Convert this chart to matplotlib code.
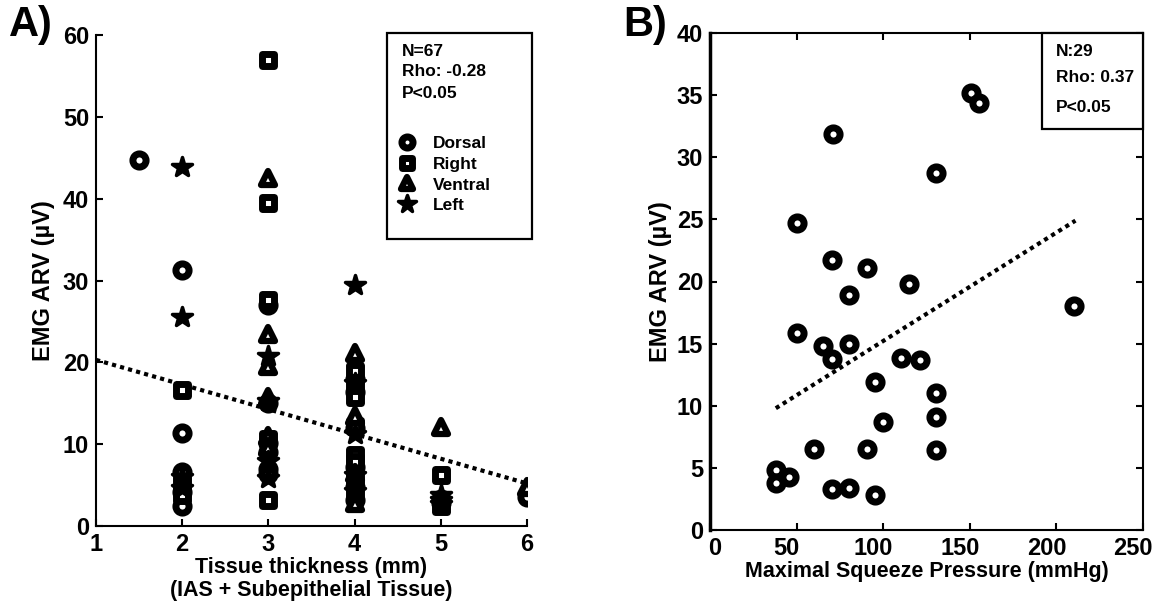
import matplotlib

matplotlib.use("Agg")
import matplotlib.pyplot as plt
from matplotlib.lines import Line2D
from matplotlib.markers import MarkerStyle
from matplotlib.patches import Rectangle
from matplotlib.transforms import ScaledTranslation

plt.rcParams["font.family"] = ["Liberation Sans", "DejaVu Sans"]
plt.rcParams["font.weight"] = "bold"

# Panel A: EMG ARV vs tissue thickness, per quadrant
dorsal_x = [1.5, 2, 2, 2, 2, 2, 3, 3, 3, 3, 3, 3, 4, 4, 4, 4, 4, 4, 5, 5, 6]
dorsal_y = [44.7, 31.3, 11.4, 6.6, 4.2, 2.4, 27.0, 15.0, 10.2, 9.0, 7.0, 6.3,
            18.0, 16.4, 12.0, 7.2, 4.8, 3.2, 3.3, 2.8, 3.6]
right_x = [2, 2, 2, 3, 3, 3, 3, 3, 4, 4, 4, 4, 4, 4, 4, 4, 5, 5]
right_y = [16.6, 5.3, 3.8, 57.0, 39.5, 27.6, 10.6, 3.2, 19.0, 17.0, 15.8,
           12.2, 8.7, 7.8, 5.8, 3.8, 6.2, 2.5]
ventral_x = [3, 3, 3, 3, 3, 3, 4, 4, 4, 4, 5, 6]
ventral_y = [42.5, 23.5, 19.6, 15.8, 11.0, 9.6, 21.1, 13.4, 6.5, 2.8, 12.1, 4.8]
left_x = [2, 2, 2, 2, 3, 3, 3, 3, 4, 4, 4, 4, 4, 5, 5, 5]
left_y = [43.9, 25.6, 6.0, 4.6, 20.8, 15.3, 8.0, 5.9, 29.5, 17.5, 11.3, 6.2,
          4.3, 3.8, 3.2, 2.7]
fit_a_x = [1, 6]
fit_a_y = [20.3, 5.2]

# Panel B: EMG ARV vs maximal squeeze pressure
msp = [150.5, 155.5, 71, 130.5, 50, 70.6, 90.5, 115, 80.3, 210.3, 50, 65,
       80.3, 70.6, 110, 121, 95.5, 130.5, 130.5, 100, 60, 90.5, 130.5, 38,
       45.8, 38, 70.6, 80.3, 95.5]
arv = [35.2, 34.4, 31.9, 28.7, 24.7, 21.7, 21.1, 19.8, 18.9, 18.0, 15.85,
       14.8, 15.0, 13.8, 13.85, 13.65, 11.9, 11.05, 9.1, 8.7, 6.5, 6.5, 6.4,
       4.8, 4.3, 3.8, 3.3, 3.35, 2.8]
fit_b_x = [38, 211]
fit_b_y = [9.8, 24.9]

W, H = 1157, 604
TICK_FS = 17
LABEL_FS = 15.5
BOX_FS = 12.5


def px(x, y):
    return x / W, 1 - y / H


def style_axis(ax):
    ax.tick_params(direction="in", length=5, width=1.5, labelsize=TICK_FS, pad=5)
    for s in ax.spines.values():
        s.set_linewidth(1.5)
    for lab in ax.get_xticklabels() + ax.get_yticklabels():
        lab.set_fontweight("bold")


SQUARE = MarkerStyle("s", joinstyle="round")
TRIANGLE = MarkerStyle("^", joinstyle="round")

marker_kw = dict(linestyle="none", markeredgecolor="black", markeredgewidth=5,
                 markerfacecolor="white", markersize=9.5)
star_kw = dict(linestyle="none", marker=MarkerStyle("*", joinstyle="round"),
               markeredgecolor="black", markerfacecolor="black",
               markeredgewidth=2.5, markersize=15)

fig = plt.figure(figsize=(W / 100, H / 100), dpi=100)

# ---------------- panel A ----------------
ax_a = fig.add_axes([96 / W, 1 - 526 / H, 431 / W, 491 / H])
ax_a.plot(fit_a_x, fit_a_y, color="black", lw=3, linestyle=(0, (1, 1)),
          dash_capstyle="butt", zorder=1)
ax_a.plot(dorsal_x, dorsal_y, marker="o", **marker_kw)
ax_a.plot(right_x, right_y, marker=SQUARE, markeredgecolor="black",
          markeredgewidth=5, markerfacecolor="white", markersize=8.5,
          linestyle="none")
ax_a.plot(ventral_x, ventral_y, marker=TRIANGLE, markeredgecolor="black",
          markeredgewidth=4.5, markerfacecolor="white", markersize=10,
          linestyle="none")
ax_a.plot(left_x, left_y, **star_kw)
ax_a.set_xlim(1, 6)
ax_a.set_ylim(0, 60)
ax_a.set_xticks(range(1, 7))
ax_a.set_yticks(range(0, 61, 10))
ax_a.spines["top"].set_visible(False)
ax_a.spines["right"].set_visible(False)
style_axis(ax_a)
ax_a.set_xlabel("Tissue thickness (mm)\n(IAS + Subepithelial Tissue)",
                fontsize=LABEL_FS, fontweight="bold", labelpad=1,
                linespacing=1.1)
ax_a.set_ylabel("EMG ARV (\u00b5V)", fontsize=17, fontweight="bold")
ax_a.yaxis.set_label_coords(-41 / 431, 0.5)

box_a = Rectangle(px(387, 239), 145 / W, 206 / H, transform=fig.transFigure,
                  facecolor="white", edgecolor="black", lw=1.6,
                  clip_on=False, zorder=5)
ax_a.add_patch(box_a)
for txt, yy in [("N=67", 51), ("Rho: -0.28", 71), ("P<0.05", 93)]:
    ax_a.text(*px(402, yy), txt, transform=fig.transFigure, fontsize=BOX_FS,
              fontweight="bold", va="center", ha="left", zorder=6)

handles = [
    Line2D([], [], marker="o", linestyle="none", markeredgecolor="black",
           markerfacecolor="white", markeredgewidth=5, markersize=8),
    Line2D([], [], marker=SQUARE, linestyle="none", markeredgecolor="black",
           markerfacecolor="white", markeredgewidth=5, markersize=7),
    Line2D([], [], marker=TRIANGLE, linestyle="none", markeredgecolor="black",
           markerfacecolor="white", markeredgewidth=4.5, markersize=8.5),
    Line2D([], [], marker=MarkerStyle("*", joinstyle="round"),
           linestyle="none", markeredgecolor="black",
           markerfacecolor="black", markeredgewidth=2.5, markersize=13),
]
leg = ax_a.legend(handles, ["Dorsal", "Right", "Ventral", "Left"],
                  loc="upper left", bbox_to_anchor=px(398.5, 136),
                  bbox_transform=fig.transFigure, frameon=False, borderpad=0,
                  borderaxespad=0, handlelength=1.0, handletextpad=1.0,
                  labelspacing=0.32, numpoints=1,
                  prop={"size": BOX_FS, "weight": "bold"})
leg.set_zorder(7)

fig.text(*px(9, 25), "A)", fontsize=30, fontweight="bold", va="center",
         ha="left")

# ---------------- panel B ----------------
ax_b = fig.add_axes([710 / W, 1 - 530 / H, 433 / W, 497 / H])
ax_b.plot(fit_b_x, fit_b_y, color="black", lw=3, linestyle=(0, (1, 1)),
          dash_capstyle="butt", zorder=1)
ax_b.plot(msp, arv, marker="o", **marker_kw)
ax_b.set_xlim(0, 250)
ax_b.set_ylim(0, 40)
ax_b.set_xticks(range(0, 251, 50))
ax_b.set_yticks(range(0, 41, 5))
ax_b.tick_params(top=True, right=True)
style_axis(ax_b)
ax_b.spines["left"].set_linewidth(2.5)

# x tick labels sit a little left of their ticks, except the zero
for i, lab in enumerate(ax_b.get_xticklabels()):
    dx = 5 if i == 0 else -10
    lab.set_transform(lab.get_transform()
                      + ScaledTranslation(dx / 100, 0, fig.dpi_scale_trans))

ax_b.set_xlabel("Maximal Squeeze Pressure (mmHg)", fontsize=LABEL_FS,
                fontweight="bold", labelpad=1)
ax_b.set_ylabel("EMG ARV (\u00b5V)", fontsize=17, fontweight="bold")
ax_b.yaxis.set_label_coords(-38 / 433, 0.5)

box_b = Rectangle(px(1042, 129), 101 / W, 96 / H, transform=fig.transFigure,
                  facecolor="white", edgecolor="black", lw=1.6,
                  clip_on=False, zorder=5)
ax_b.add_patch(box_b)
for txt, yy in [("N:29", 51), ("Rho: 0.37", 78), ("P<0.05", 108)]:
    ax_b.text(*px(1056, yy), txt, transform=fig.transFigure, fontsize=BOX_FS,
              fontweight="bold", va="center", ha="left", zorder=6)

fig.text(*px(667, 25), "B)", fontsize=30, fontweight="bold", va="center",
         ha="right")

fig.savefig("out.png", dpi=100)
plt.close(fig)
